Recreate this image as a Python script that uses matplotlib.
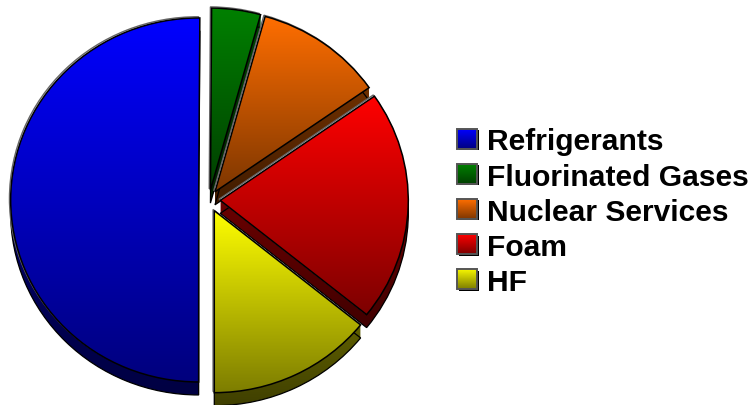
import numpy as np
import matplotlib
matplotlib.use("Agg")
import matplotlib.pyplot as plt
from matplotlib.path import Path
from matplotlib.patches import PathPatch, Rectangle

plt.rcParams['font.family'] = ['Liberation Sans', 'DejaVu Sans']

categories = ["Refrigerants", "Fluorinated Gases", "Nuclear Services", "Foam", "HF"]
shares = [50.1, 4.2, 11.0, 20.5, 14.2]
top_colors = ["#0000ff", "#008000", "#ff6e00", "#ff0000", "#ffff00"]
explode = [0.055, 0.055, 0.055, 0.06, 0.065]

W, H = 752, 406
CX, CY = 209, 201      # pie centre, pixels from top left
RX, RY = 188, 182      # pie radii, pixels
DEPTH = 13             # extrusion height, pixels
SHADE = 0.49           # colour left at the bottom of a gradient
SIDE = 0.55            # extra darkening on extruded sides

fig = plt.figure(figsize=(W / 100, H / 100), dpi=100)
ax = fig.add_axes([0, 0, 1, 1])
wedges, _ = ax.pie(shares, explode=explode, startangle=270, counterclock=False,
                   wedgeprops=dict(facecolor="none", edgecolor="black", linewidth=1.1))
ax.set_aspect("auto")
xlim = (-CX / RX, (W - CX) / RX)
ylim = ((CY - H) / RY, CY / RY)


def gradient(color, y0, y1, zorder, clip, scale=1.0):
    """Vertical fade between y1 and y0 that keeps darkening below y0."""
    rgb = np.array(matplotlib.colors.to_rgb(color)) * scale
    ys = np.linspace(ylim[1], ylim[0], 512)
    t = np.clip((y1 - ys) / (y1 - y0), 0, 1.3)
    shade = np.clip(1 + (SHADE - 1) * t, 0, 1)
    pixels = (shade[:, None, None] * rgb[None, None, :])
    img = ax.imshow(pixels, aspect="auto", extent=(xlim[0], xlim[1], ylim[0], ylim[1]),
                    origin="upper", interpolation="bilinear", zorder=zorder)
    img.set_clip_path(clip)
    return img


# Painted back to front so nearer slices overlap the side walls behind them
paint_order = [1, 2, 3, 4, 0]
for rank, i in enumerate(paint_order):
    w = wedges[i]
    base = 2 + rank * 5
    surface = w.get_path().transformed(w.get_patch_transform())
    box = surface.get_extents()

    # Side wall: union of the surface shifted down in one pixel steps
    steps = [Path(surface.vertices - [0, d / RY], surface.codes)
             for d in range(1, DEPTH + 1)]
    wall = Path.make_compound_path(*steps)
    wall_clip = PathPatch(wall, transform=ax.transData, facecolor="none", edgecolor="none")
    ax.add_patch(wall_clip)
    gradient(top_colors[i], box.y0, box.y1, base, wall_clip, scale=SIDE)
    ax.add_patch(PathPatch(steps[-1], transform=ax.transData, facecolor="none",
                           edgecolor="black", linewidth=0.9, zorder=base + 0.5))

    # Grey rim up and to the left of the surface
    rim = Path(surface.vertices + [-1.2 / RX, 1.2 / RY], surface.codes)
    ax.add_patch(PathPatch(rim, transform=ax.transData, facecolor="white",
                           edgecolor="#666666", linewidth=1.0, zorder=base + 1))

    # Top surface and outline
    top_clip = PathPatch(surface, transform=ax.transData, facecolor="none", edgecolor="none")
    ax.add_patch(top_clip)
    gradient(top_colors[i], box.y0, box.y1, base + 2, top_clip)
    w.set_zorder(base + 3)

# Legend column
for i, label in enumerate(categories):
    yc = 139.5 + i * 35.2
    x0 = (457 - CX) / RX
    x1 = (477 - CX) / RX
    y1 = (CY - (yc - 10)) / RY
    y0 = (CY - (yc + 10)) / RY
    shadow = Rectangle((x0 + 1.5 / RX, y0 - 1.5 / RY), x1 - x0, y1 - y0, facecolor="black",
                       edgecolor="none", zorder=50)
    ax.add_patch(shadow)
    frame = Rectangle((x0, y0), x1 - x0, y1 - y0, facecolor="none", edgecolor="#555555",
                      linewidth=1.4, zorder=53)
    ax.add_patch(frame)
    clip = Rectangle((x0, y0), x1 - x0, y1 - y0, facecolor="none", edgecolor="none")
    ax.add_patch(clip)
    gradient(top_colors[i], y0, y1, 51, clip)
    ax.text((487 - CX) / RX, (CY - yc) / RY, label, fontsize=21.6, fontweight="bold",
            color="black", va="center_baseline", ha="left", zorder=60)

ax.set_xlim(*xlim)
ax.set_ylim(*ylim)
ax.axis("off")
fig.savefig("out.png", dpi=100, facecolor="white")
